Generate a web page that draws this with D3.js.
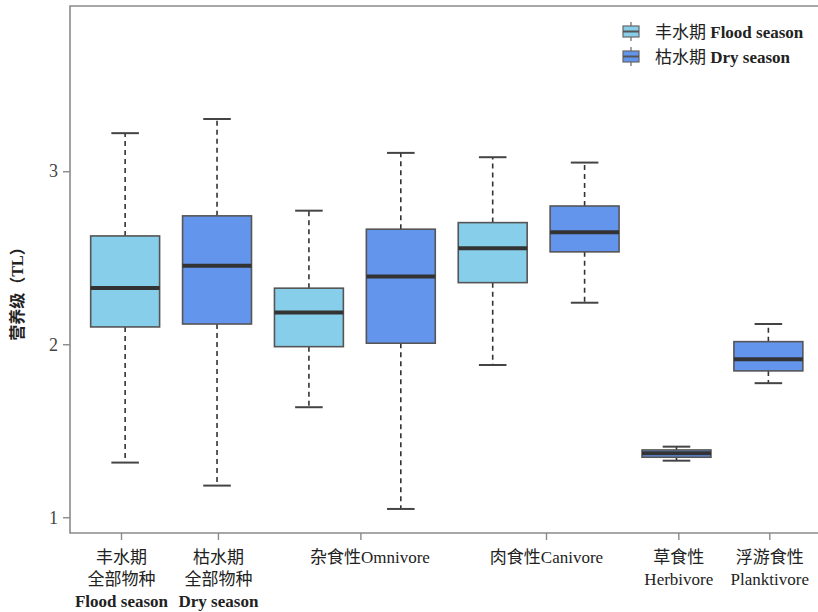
<!DOCTYPE html>
<html>
<head>
<meta charset="utf-8">
<script src="https://cdn.jsdelivr.net/npm/d3@7"></script>
<style>
  html, body { margin: 0; padding: 0; background: #fff; }
  svg { display: block; }
  text { font-family: "Liberation Serif", "Noto Sans CJK SC", serif; }
</style>
</head>
<body>
<svg id="chart" width="818" height="612"></svg>
<script>
// Trophic level (TL) summaries per box: position on the x axis and season
const boxPos    = [1, 2, 3, 4, 5, 6, 7, 8];
const boxSeason = ["flood", "dry", "flood", "dry", "flood", "dry", "dry", "dry"];
const whiskLow  = [1.316, 1.183, 1.636, 1.048, 1.880, 2.240, 1.327, 1.775];
const q1        = [2.100, 2.117, 1.986, 2.006, 2.356, 2.534, 1.347, 1.846];
const medians   = [2.325, 2.453, 2.183, 2.391, 2.555, 2.647, 1.370, 1.913];
const q3        = [2.626, 2.742, 2.324, 2.665, 2.703, 2.799, 1.389, 2.015];
const whiskHigh = [3.220, 3.302, 2.772, 3.106, 3.081, 3.050, 1.408, 2.117];

// Category axis: tick positions and their (multi-line) labels
const catTicks  = [0.955, 2.01, 3.56, 5.58, 7.02, 8.01];
const catLabels = [
  ["丰水期", "全部物种", "Flood season"],
  ["枯水期", "全部物种", "Dry season"],
  ["杂食性Omnivore"],
  ["肉食性Canivore"],
  ["草食性", "Herbivore"],
  ["浮游食性", "Planktivore"]
];
const labelShift = [0, 0, 9, 0, 0, 0];
const yTicks = [1, 2, 3];

const seasonKeys   = ["flood", "dry"];
const seasonNames  = ["丰水期", "枯水期"];
const seasonEn     = ["Flood season", "Dry season"];
const seasonColors = ["#87CEEB", "#6495ED"];

const svg = d3.select("#chart");
const plotL = 70, plotT = 6, plotB = 533, plotR = 818;

const x = d3.scaleLinear().domain([0.4, 8.54]).range([plotL, plotR]);
const y = d3.scaleLinear().domain([0.909, 3.955]).range([plotB, plotT]);
const color = d3.scaleOrdinal().domain(seasonKeys).range(seasonColors);

const boxW = 0.75, capW = 0.3;
const frameColor = "#8a8a8a";

// frame: left, top, bottom
svg.append("path")
  .attr("d", `M${plotR},${plotT}H${plotL}V${plotB}H${plotR}`)
  .attr("fill", "none").attr("stroke", frameColor).attr("stroke-width", 1.6);

// y axis
const yAxis = svg.append("g")
  .attr("transform", `translate(${plotL},0)`)
  .call(d3.axisLeft(y).tickValues(yTicks).tickFormat(d3.format("d")).tickSize(7).tickPadding(5));
yAxis.select(".domain").remove();
yAxis.selectAll(".tick line").attr("stroke", frameColor).attr("stroke-width", 1.4);
yAxis.selectAll(".tick text")
  .attr("font-size", 18).attr("fill", "#444")
  .attr("font-family", "'Liberation Serif', serif");

// y axis title
svg.append("text")
  .attr("transform", "translate(23,290) rotate(-90)")
  .attr("text-anchor", "middle")
  .attr("font-size", 16).attr("font-weight", "bold").attr("fill", "#222")
  .text("营养级（TL）");

// x axis
const xAxis = svg.append("g")
  .attr("transform", `translate(0,${plotB})`)
  .call(d3.axisBottom(x).tickValues(catTicks).tickSize(7).tickFormat(""));
xAxis.select(".domain").remove();
xAxis.selectAll(".tick line").attr("stroke", frameColor).attr("stroke-width", 1.4);
xAxis.selectAll(".tick").each(function (d, i) {
  const t = d3.select(this).append("text")
    .attr("text-anchor", "middle").attr("fill", "#222").attr("font-size", 17)
    .attr("x", labelShift[i]);
  catLabels[i].forEach((line, j) => {
    const bold = (i < 2 && j === 2);
    t.append("tspan")
      .attr("x", labelShift[i])
      .attr("y", 30 + j * 22)
      .attr("font-weight", bold ? "bold" : "normal")
      .text(line);
  });
});

// boxes
const boxes = boxPos.map((p, i) => ({
  p, season: boxSeason[i], lo: whiskLow[i], q1: q1[i], med: medians[i], q3: q3[i], hi: whiskHigh[i]
}));
const bw = x(boxW) - x(0), cw = x(capW) - x(0);
const g = svg.append("g");
const b = g.selectAll("g.box").data(boxes).join("g").attr("class", "box");

// dashed whiskers
b.append("line")
  .attr("x1", d => x(d.p)).attr("x2", d => x(d.p))
  .attr("y1", d => y(d.q3)).attr("y2", d => y(d.hi))
  .attr("stroke", "#333").attr("stroke-width", 1.6).attr("stroke-dasharray", "5,4");
b.append("line")
  .attr("x1", d => x(d.p)).attr("x2", d => x(d.p))
  .attr("y1", d => y(d.q1)).attr("y2", d => y(d.lo))
  .attr("stroke", "#333").attr("stroke-width", 1.6).attr("stroke-dasharray", "5,4");
// staples
b.append("line")
  .attr("x1", d => x(d.p) - cw / 2).attr("x2", d => x(d.p) + cw / 2)
  .attr("y1", d => y(d.hi)).attr("y2", d => y(d.hi))
  .attr("stroke", "#444").attr("stroke-width", 2);
b.append("line")
  .attr("x1", d => x(d.p) - cw / 2).attr("x2", d => x(d.p) + cw / 2)
  .attr("y1", d => y(d.lo)).attr("y2", d => y(d.lo))
  .attr("stroke", "#444").attr("stroke-width", 2);
// box body
b.append("rect")
  .attr("x", d => x(d.p) - bw / 2).attr("width", bw)
  .attr("y", d => y(d.q3)).attr("height", d => y(d.q1) - y(d.q3))
  .attr("fill", d => color(d.season))
  .attr("stroke", "#555").attr("stroke-width", 1.6);
// median
b.append("line")
  .attr("x1", d => x(d.p) - bw / 2).attr("x2", d => x(d.p) + bw / 2)
  .attr("y1", d => y(d.med)).attr("y2", d => y(d.med))
  .attr("stroke", "#333").attr("stroke-width", 4);

// legend
const legend = svg.append("g").attr("transform", "translate(623,24)");
seasonKeys.forEach((k, i) => {
  const row = legend.append("g").attr("transform", `translate(0,${i * 25})`);
  row.append("line").attr("x1", 8).attr("x2", 8).attr("y1", -2).attr("y2", 17)
    .attr("stroke", "#666").attr("stroke-width", 1.2);
  row.append("rect").attr("x", 0).attr("y", 2).attr("width", 16).attr("height", 11)
    .attr("fill", seasonColors[i]).attr("stroke", "#666").attr("stroke-width", 1.2);
  row.append("line").attr("x1", 0).attr("x2", 16).attr("y1", 7.5).attr("y2", 7.5)
    .attr("stroke", "#555").attr("stroke-width", 2);
  const t = row.append("text").attr("x", 32).attr("y", 14)
    .attr("font-size", 17).attr("fill", "#222");
  t.append("tspan").text(seasonNames[i] + " ");
  t.append("tspan").attr("font-weight", "bold").text(seasonEn[i]);
});
</script>
</body>
</html>
